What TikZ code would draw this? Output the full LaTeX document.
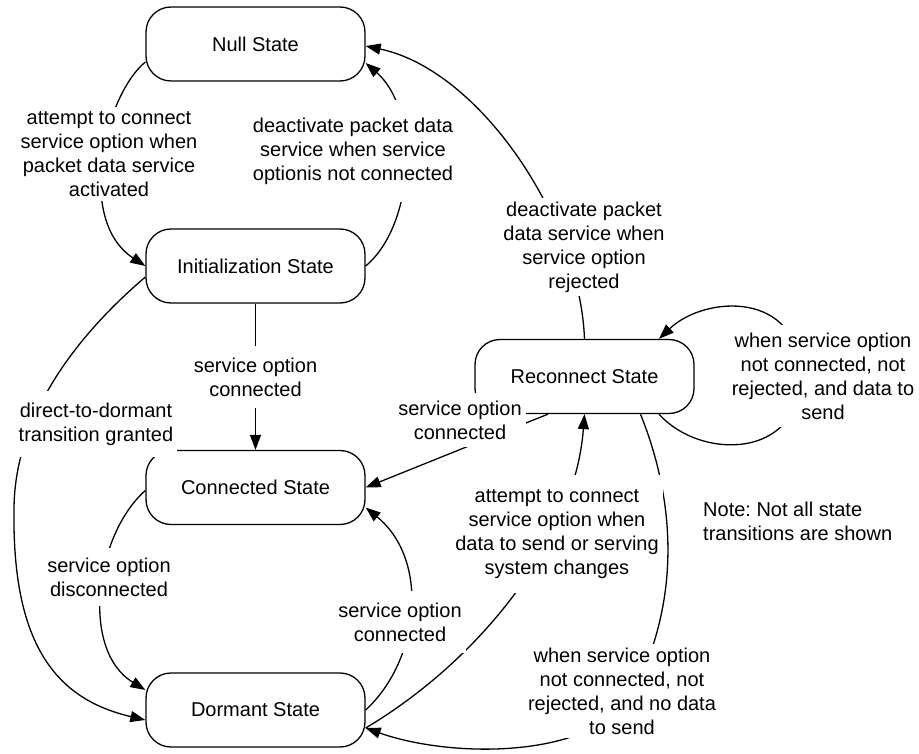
\documentclass[tikz,border=0pt]{standalone}
\usepackage{fontspec}
\setmainfont{Liberation Sans}
\usetikzlibrary{arrows.meta,calc}
\frenchspacing
\begin{document}
\begin{tikzpicture}[x=1pt,y=-1pt,
  font=\fontsize{20}{24}\selectfont\frenchspacing,
  statebox/.style={draw,line width=1.3pt,rounded corners=25pt,minimum width=219pt,minimum height=74pt,inner sep=0pt},
  link/.style={line width=1.3pt},
  arr/.style={link,-{Triangle[length=15pt,width=11pt]}},
  lbl/.style={fill=white,align=center,inner xsep=4pt,inner ysep=4pt}]
\useasboundingbox (0,0) rectangle (919,754);

% states
\node[statebox] (null) at (255.5,44) {Null State};
\node[statebox] (init) at (255.5,266) {Initialization State};
\node[statebox] (conn) at (255.5,487.5) {Connected State};
\node[statebox] (dorm) at (255.5,710) {Dormant State};
\node[statebox] (rec) at (584.5,376.5) {Reconnect State};

% transitions
\draw[arr] ([yshift=-18pt]null.west) .. controls (105,95) and (75,220) .. (init.west);
\draw[arr] (init.east) .. controls (415,225) and (420,110) .. ([yshift=-19pt]null.east);
\draw[arr] (rec.north) .. controls (580,220) and (480,70) .. ([yshift=-2pt]null.east);
\draw[arr] (init.south) -- (conn.north);
\draw[arr] ([yshift=-11pt]init.west) .. controls (60,350) and (14,430) .. (14,510)
           .. controls (12,650) and (60,700) .. ([yshift=-10pt]dorm.west);
\draw[arr] ([yshift=-3pt]conn.west) .. controls (95,535) and (80,650) .. ([yshift=20pt]dorm.west);
\draw[arr] (dorm.east) .. controls (420,660) and (430,560) .. ([yshift=-20pt]conn.east);
\draw[arr] ([xshift=-36.5pt]rec.south) -- (conn.east);
\draw[arr] ([yshift=-18pt]dorm.east) .. controls (480,660) and (575,540) .. (rec.south);
\draw[arr] ([xshift=56pt]rec.south) .. controls (675,500) and (682,600) .. (632,695)
           .. controls (590,760) and (450,758) .. ([yshift=-18pt]dorm.east);
\draw[arr] ([xshift=74.5pt]rec.south) .. controls (700,460) and (800,460) .. (800,376)
           .. controls (800,290) and (705,295) .. ([xshift=74.5pt]rec.north);

% labels
\node[lbl] (l1) at (109,154) {attempt to connect\\service option when\\packet data service\\activated};
\node[lbl,inner ysep=18pt] (l2) at (353,151) {deactivate packet data\\service when service\\optionis not connected};
\node[lbl] (l3) at (584,247) {deactivate packet\\data service when\\service option\\rejected};
\node[lbl,inner ysep=12pt] (l4) at (255.5,377) {service option\\connected};
\node[lbl,inner ysep=12pt] (l5) at (96,424) {direct-to-dormant\\transition granted};
\node[lbl,inner ysep=10pt] (l6) at (109,577) {service option\\disconnected};
\node[lbl,inner ysep=12pt] (l7) at (400,622) {service option\\connected};
\node[lbl,inner ysep=8pt] (l8) at (460,420) {service option\\connected};
\node[lbl,inner ysep=14pt] (l9) at (557,534) {attempt to connect\\service option when\\data to send or serving\\system changes};
\node[lbl] (l10) at (622,691) {when service option\\not connected, not\\rejected, and no data\\to send};
\node[lbl,inner ysep=8pt] (l11) at (823,376) {when service option\\not connected, not\\rejected, and data to\\send};
\node[anchor=west,align=left,inner sep=0pt] (note) at (703,521) {Note: Not all state\\transitions are shown};
\end{tikzpicture}
\end{document}
